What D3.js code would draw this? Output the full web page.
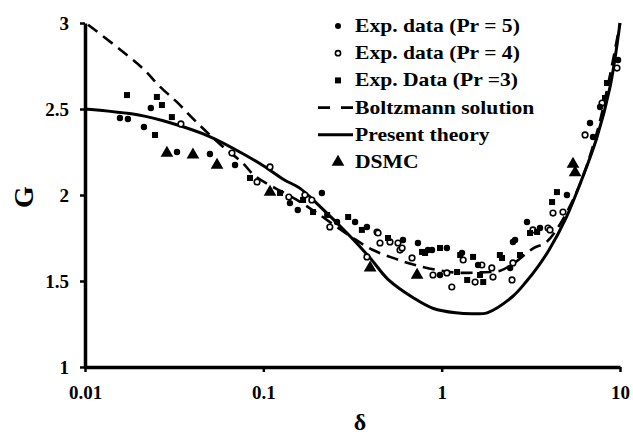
<!DOCTYPE html>
<html>
<head>
<meta charset="utf-8">
<script src="https://cdn.jsdelivr.net/npm/d3@7"></script>
<style>
  body { margin: 0; background: #fff; }
  svg text { font-family: "Liberation Serif", "Times New Roman", serif; font-weight: bold; fill: #000; }
</style>
</head>
<body>
<svg id="chart" width="633" height="438"></svg>
<script>
// Present theory (solid)
const theoryDelta = [0.01, 0.02, 0.03, 0.05, 0.08, 0.1, 0.13, 0.16, 0.2, 0.3, 0.4, 0.5, 0.7, 0.9, 1.2, 1.5, 1.8, 2.5, 3, 3.5, 4, 5, 6, 7.4, 8.8, 10];
const theoryG = [2.50, 2.465, 2.42, 2.34, 2.23, 2.17, 2.09, 2.04, 1.95, 1.77, 1.63, 1.51, 1.40, 1.34, 1.315, 1.31, 1.315, 1.41, 1.50, 1.59, 1.68, 1.87, 2.07, 2.33, 2.63, 3.0];

// Boltzmann solution (dashed)
const boltzDelta = [0.0104, 0.0209, 0.0263, 0.0328, 0.0398, 0.0489, 0.061, 0.076, 0.09, 0.155, 0.2, 0.318, 0.412, 0.548, 0.728, 1.16, 1.64, 2.13, 2.51, 3.26, 3.9, 5.5, 7.5, 10];
const boltzG = [2.99, 2.74, 2.63, 2.54, 2.45, 2.36, 2.27, 2.19, 2.11, 1.97, 1.895, 1.75, 1.68, 1.63, 1.59, 1.55, 1.55, 1.56, 1.60, 1.69, 1.73, 1.98, 2.38, 3.0];

// Exp. data (Pr = 5), filled circles
const pr5Delta = [0.0234, 0.0157, 0.0174, 0.0214, 0.0328, 0.0502, 0.0694, 0.156, 0.213, 0.259, 0.381, 0.607, 0.736, 0.838, 1.07, 1.30, 1.60, 0.979, 2.42, 2.51, 2.58, 3.01, 3.56, 5.04, 7.73, 6.79, 7.06, 9.75, 0.141, 0.327, 0.883];
const pr5G = [2.506, 2.448, 2.442, 2.395, 2.250, 2.238, 2.174, 1.913, 2.012, 1.843, 1.814, 1.738, 1.721, 1.680, 1.692, 1.663, 1.593, 1.535, 1.576, 1.727, 1.738, 1.843, 1.808, 2.000, 2.512, 2.419, 2.337, 2.785, 1.953, 1.843, 1.680];

// Exp. data (Pr = 4), open circles
const pr4Delta = [0.0345, 0.0667, 0.109, 0.0922, 0.171, 0.187, 0.139, 0.236, 0.434, 0.451, 0.513, 0.569, 0.584, 0.600, 0.682, 0.894, 1.07, 1.14, 1.32, 1.54, 1.68, 1.91, 1.94, 2.51, 2.48, 3.25, 3.95, 4.21, 4.79, 4.05, 6.37, 7.93, 9.62, 0.381, 0.440];
const pr4G = [2.413, 2.244, 2.163, 2.076, 2.000, 1.971, 1.988, 1.814, 1.785, 1.721, 1.727, 1.721, 1.680, 1.692, 1.634, 1.535, 1.547, 1.465, 1.622, 1.494, 1.593, 1.576, 1.523, 1.605, 1.506, 1.797, 1.808, 1.895, 1.901, 1.797, 2.349, 2.535, 2.738, 1.640, 1.779];

// Exp. Data (Pr = 3), filled squares
const pr3Delta = [0.0172, 0.0253, 0.0270, 0.0307, 0.0247, 0.0842, 0.124, 0.228, 0.299, 0.357, 0.500, 0.776, 0.979, 1.27, 1.22, 1.50, 1.64, 1.71, 2.18, 2.12, 2.75, 3.13, 3.43, 4.43, 4.16, 8.24, 8.45, 0.190, 0.167, 1.39, 0.807];
const pr3G = [2.581, 2.570, 2.523, 2.453, 2.349, 2.099, 2.012, 1.884, 1.872, 1.797, 1.750, 1.669, 1.692, 1.651, 1.552, 1.640, 1.535, 1.494, 1.634, 1.651, 1.651, 1.779, 1.785, 2.017, 1.959, 2.564, 2.651, 1.901, 1.971, 1.506, 1.663];

// DSMC, filled triangles
const dsmcDelta = [0.0288, 0.0403, 0.055, 0.109, 0.397, 0.728, 5.45, 5.6];
const dsmcG = [2.244, 2.233, 2.174, 2.017, 1.576, 1.535, 2.18, 2.13];

const xTicks = [0.01, 0.1, 1, 10];
const yTicks = [1, 1.5, 2, 2.5, 3];

const legendLabels = ['Exp. data (Pr = 5)', 'Exp. data (Pr = 4)', 'Exp. Data (Pr =3)', 'Boltzmann solution', 'Present theory', 'DSMC'];

(function() {
  let svg = d3.select('#chart');

  let left = 85, right = 620, top = 23, bottom = 367;

  let xScale = d3.scaleLog().domain([0.01, 10]).range([left, right]);
  let yScale = d3.scaleLinear().domain([1, 3]).range([bottom, top]);

  let zip = (xs, ys) => xs.map((d, i) => ({ x: d, y: ys[i] }));

  let line = d3.line()
    .x((d) => xScale(d.x))
    .y((d) => yScale(d.y))
    .curve(d3.curveCatmullRom.alpha(0.5));

  // x axis
  let xAxis = svg.append('g')
    .attr('transform', `translate(0, ${bottom})`)
    .call(d3.axisBottom(xScale).tickValues(xTicks).tickFormat((d) => String(d))
      .tickSizeInner(5).tickSizeOuter(0).tickPadding(14));
  // y axis
  let yAxis = svg.append('g')
    .attr('transform', `translate(${left}, 0)`)
    .call(d3.axisLeft(yScale).tickValues(yTicks).tickFormat((d) => String(d))
      .tickSizeInner(5).tickSizeOuter(0).tickPadding(11));

  [xAxis, yAxis].forEach((g) => {
    g.select('.domain').attr('stroke-width', 3.5).attr('stroke', '#000');
    g.selectAll('.tick line').attr('stroke-width', 2.5).attr('stroke', '#000');
    g.selectAll('.tick text').attr('font-size', 19).attr('font-family', null);
  });

  // axis titles
  svg.append('text')
    .attr('transform', 'translate(33, 197) rotate(-90)')
    .attr('text-anchor', 'middle')
    .attr('font-size', 28)
    .text('G');
  svg.append('text')
    .attr('x', 360).attr('y', 430)
    .attr('text-anchor', 'middle')
    .attr('font-size', 24)
    .text('δ');

  // curves
  svg.append('path')
    .datum(zip(boltzDelta, boltzG))
    .attr('fill', 'none')
    .attr('stroke', '#000')
    .attr('stroke-width', 2.6)
    .attr('stroke-dasharray', '12,7')
    .attr('d', line);

  svg.append('path')
    .datum(zip(theoryDelta, theoryG))
    .attr('fill', 'none')
    .attr('stroke', '#000')
    .attr('stroke-width', 3)
    .attr('d', line);

  // markers
  let pts = svg.append('g');
  pts.selectAll('.pr4')
    .data(zip(pr4Delta, pr4G))
    .join('circle')
      .attr('cx', (d) => xScale(d.x))
      .attr('cy', (d) => yScale(d.y))
      .attr('r', 2.8)
      .attr('fill', '#fff')
      .attr('stroke', '#000')
      .attr('stroke-width', 1.6);
  pts.selectAll('.pr3')
    .data(zip(pr3Delta, pr3G))
    .join('rect')
      .attr('x', (d) => xScale(d.x) - 3)
      .attr('y', (d) => yScale(d.y) - 3)
      .attr('width', 6).attr('height', 6)
      .attr('fill', '#000');
  pts.selectAll('.pr5')
    .data(zip(pr5Delta, pr5G))
    .join('circle')
      .attr('cx', (d) => xScale(d.x))
      .attr('cy', (d) => yScale(d.y))
      .attr('r', 3.2)
      .attr('fill', '#000');
  let tri = d3.symbol().type(d3.symbolTriangle).size(70);
  pts.selectAll('.dsmc')
    .data(zip(dsmcDelta, dsmcG))
    .join('path')
      .attr('transform', (d) => `translate(${xScale(d.x)}, ${yScale(d.y)})`)
      .attr('d', tri)
      .attr('fill', '#000');

  // legend
  let legend = svg.append('g');
  let rowY = (i) => 26 + i * 27.2;
  legendLabels.forEach((label, i) => {
    legend.append('text')
      .attr('transform', `translate(355, ${rowY(i) + 6}) scale(1.2, 1)`)
      .attr('font-size', 18)
      .text(label);
  });
  legend.append('circle').attr('cx', 338).attr('cy', rowY(0)).attr('r', 3).attr('fill', '#000');
  legend.append('circle').attr('cx', 338).attr('cy', rowY(1)).attr('r', 2.6)
    .attr('fill', '#fff').attr('stroke', '#000').attr('stroke-width', 1.6);
  legend.append('rect').attr('x', 335).attr('y', rowY(2) - 3).attr('width', 6).attr('height', 6).attr('fill', '#000');
  legend.append('line').attr('x1', 318).attr('x2', 353).attr('y1', rowY(3)).attr('y2', rowY(3))
    .attr('stroke', '#000').attr('stroke-width', 2.6).attr('stroke-dasharray', '12,11');
  legend.append('line').attr('x1', 318).attr('x2', 353).attr('y1', rowY(4)).attr('y2', rowY(4))
    .attr('stroke', '#000').attr('stroke-width', 3);
  legend.append('path').attr('transform', `translate(338, ${rowY(5)})`).attr('d', tri).attr('fill', '#000');
})();
</script>
</body>
</html>
